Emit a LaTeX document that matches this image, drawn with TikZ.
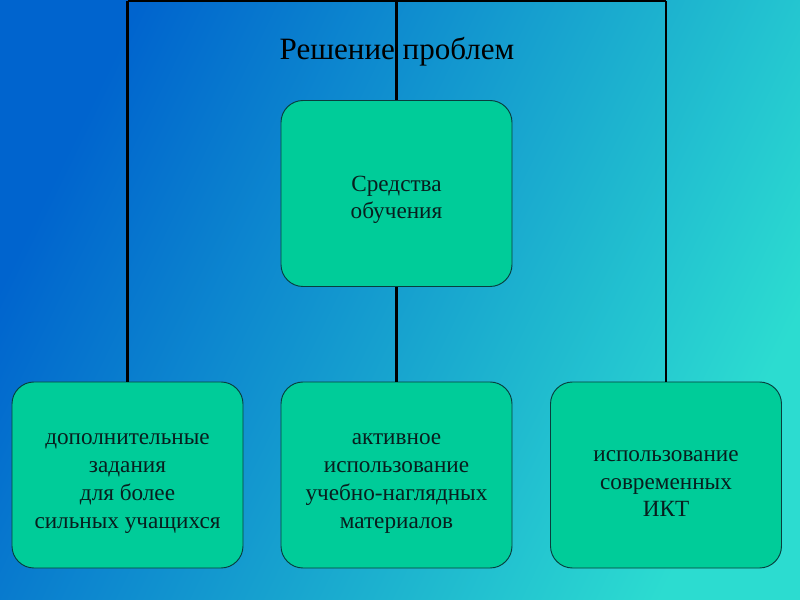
\documentclass[tikz,border=0pt]{standalone}
\usepackage{fontspec}
\setmainfont{Liberation Serif}
\usepackage{tikz}
\usetikzlibrary{
    positioning,
    calc
}
\definecolor{SlideDark}{RGB}{0,100,206}
\definecolor{SlideMid}{RGB}{10,152,230}
\definecolor{SlideLight}{RGB}{44,220,208}
\definecolor{BoxGreen}{RGB}{0,204,153}
\definecolor{BoxEdge}{RGB}{8,62,62}
\definecolor{TextDark}{RGB}{8,30,30}
\newcommand{\lift}{\rule{0pt}{24pt}}
\tikzset{
  card/.style  = {draw=BoxEdge, line width=0.8pt, fill=BoxGreen, rounded corners=0.66cm,
                  minimum width=6.93cm, minimum height=5.58cm, align=center,
                  text=TextDark, font=\fontsize{19.8}{23.8}\selectfont},
  link/.style  = {black, line width=1.8pt}
}
\begin{document}
\begin{tikzpicture}[x=0.03cm, y=-0.03cm]
\useasboundingbox (0,0) rectangle (800,600);
\shade[top color=SlideDark, middle color=SlideMid, bottom color=SlideLight,
       shading angle=64] (0,0) rectangle (800,600);

\node[font=\fontsize{26.5}{30}\selectfont] (title) at (397,52) {Решение проблем};

\node[card] (tools) at (396.5,193.5) {\lift Средства\\обучения};
\node[card] (extra) at (127.5,475) {\lift дополнительные\\задания\\для более\\сильных учащихся};
\node[card] (visual) at (396.5,475) {\lift активное\\использование\\учебно-наглядных\\материалов};
\node[card] (ict) at (666,475) {\lift использование\\современных\\ИКТ};

\coordinate (barL) at (127.5,0.8);
\coordinate (barM) at (396.5,0.8);
\coordinate (barR) at (666,0.8);

\draw[link] (barL) -- (barR);
\draw[link] (barL) -- (extra.north);
\draw[link] (barM) -- (tools.north);
\draw[link] (tools.south) -- (visual.north);
\draw[link] (barR) -- (ict.north);
\end{tikzpicture}
\end{document}
